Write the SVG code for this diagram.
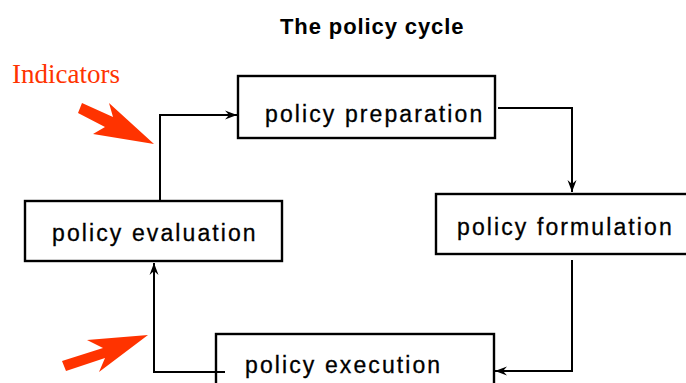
<svg xmlns="http://www.w3.org/2000/svg" width="686" height="383" viewBox="0 0 686 383">
<defs>
<style>
.box{fill:#fff;stroke:#000;stroke-width:2.4}
.lbl{font-family:"Liberation Sans",Arial,sans-serif;font-size:23px;letter-spacing:2.1px;fill:#000;stroke:#000;stroke-width:0.3}
.title{font-family:"Liberation Sans",Arial,sans-serif;font-size:22px;font-weight:bold;letter-spacing:0.9px;fill:#000}
.conn{fill:none;stroke:#000;stroke-width:2}
.ind{fill:#ff3300}
</style>
<marker id="ah" markerUnits="userSpaceOnUse" markerWidth="14" markerHeight="12" viewBox="-12 -6 14 12" refX="0" refY="0" orient="auto">
<path d="M0,0 L-12,-4.5 L-8,0 L-12,4.5 Z" fill="#000"/>
</marker>
</defs>
<rect width="686" height="383" fill="#fff"/>
<text class="title" x="280" y="34">The policy cycle</text>
<g id="indicators">
<text x="12" y="83" font-family="Liberation Serif,'Times New Roman',serif" font-size="27" fill="#ff3300">Indicators</text>
<polygon class="ind" points="82,103 113,117 109,103 154,144 93,134 105,127 78,113"/>
<polygon class="ind" points="62,361 103,348 87,340 148,335 99,372 105,358 66,371"/>
</g>
<g id="connectors">
<path class="conn" d="M498,108 H572 V192" marker-end="url(#ah)"/>
<path class="conn" d="M572,260 V371 H495" marker-end="url(#ah)"/>
<path class="conn" d="M225,372 H154 V263" marker-end="url(#ah)"/>
<path class="conn" d="M160,201 V115 H237" marker-end="url(#ah)"/>
</g>
<g id="node-preparation">
<rect class="box" x="238" y="76" width="257" height="62"/>
<text class="lbl" x="265" y="121.5">policy preparation</text>
</g>
<g id="node-formulation">
<rect class="box" x="436" y="194" width="262" height="60"/>
<text class="lbl" x="457" y="235">policy formulation</text>
</g>
<g id="node-evaluation">
<rect class="box" x="25" y="201" width="257" height="60"/>
<text class="lbl" x="52" y="241">policy evaluation</text>
</g>
<g id="node-execution">
<rect class="box" x="216" y="334" width="278" height="62"/>
<text class="lbl" x="245" y="373">policy execution</text>
</g>
<path class="conn" d="M216,372 H225"/>
</svg>
